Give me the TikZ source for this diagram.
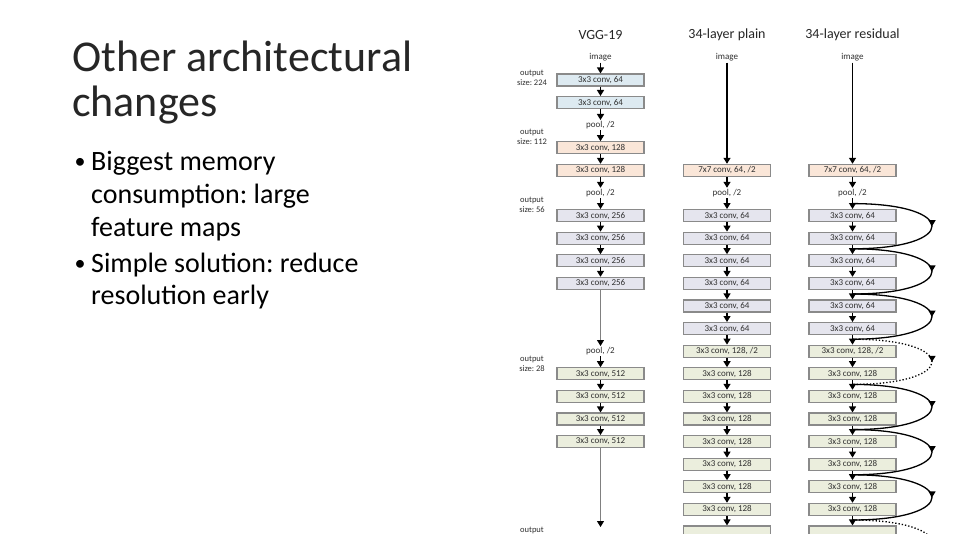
\documentclass[tikz,border=0pt]{standalone}
\usepackage{fontspec}
\setmainfont{Carlito}
\usetikzlibrary{arrows.meta,decorations.markings}
\definecolor{cblue}{HTML}{DDEAF1}
\definecolor{cpeach}{HTML}{FAE6D8}
\definecolor{clav}{HTML}{E5E5EE}
\definecolor{cgreen}{HTML}{EBEEDD}
\definecolor{boxline}{HTML}{8A8A8A}
\definecolor{txt}{HTML}{303030}
\definecolor{ttl}{HTML}{262626}
\tikzset{
  convbox/.style={draw=boxline, line width=1.2pt, minimum width=87pt, minimum height=12pt,
    inner sep=0pt, font=\fontsize{9}{9}\selectfont, text=txt},
  bluebox/.style={convbox, fill=cblue},
  peachbox/.style={convbox, fill=cpeach},
  lavbox/.style={convbox, fill=clav},
  greenbox/.style={convbox, fill=cgreen},
  lbl/.style={font=\fontsize{9}{9}\selectfont, text=txt, inner sep=1pt, text height=6pt, text depth=2pt},
  sizelbl/.style={font=\fontsize{8.5}{10}\selectfont, text=txt, align=center, inner sep=0pt},
  coltitle/.style={font=\fontsize{14}{15}\selectfont, text=ttl, inner sep=0pt},
  arr/.style={line width=1.3pt, -{Triangle[width=7pt,length=6pt]}},
  longarr/.style={draw=gray, line width=0.9pt, -{Triangle[width=7pt,length=6pt,color=black]}},
  skiparc/.style={line width=1.3pt,
    decoration={markings, mark=at position 0.5 with {\arrow{Triangle[width=7pt,length=6pt]}}},
    postaction={decorate}},
  skipdot/.style={skiparc, dotted},
}
\frenchspacing
\begin{document}
\begin{tikzpicture}[x=1pt,y=-1pt]
\useasboundingbox[fill=white] (0,0) rectangle (960,540);

% left text
\node[anchor=base west, font=\fontsize{44}{46}\selectfont, text=ttl, inner sep=0pt] (t1) at (72,72) {Other architectural};
\node[anchor=base west, font=\fontsize{44}{46}\selectfont, text=ttl, inner sep=0pt] (t2) at (72,117) {changes};
\tikzset{bodyt/.style={anchor=base west, font=\fontsize{28}{30}\selectfont, inner sep=0pt}}
\node[anchor=base, font=\fontsize{22}{24}\selectfont, inner sep=0pt] (b1) at (80,169) {•};
\node[bodyt] (b1a) at (91,171) {Biggest memory};
\node[bodyt] (b1b) at (91,204) {consumption: large};
\node[bodyt] (b1c) at (91,236) {feature maps};
\node[anchor=base, font=\fontsize{22}{24}\selectfont, inner sep=0pt] (b2) at (80,270) {•};
\node[bodyt] (b2a) at (91,272) {Simple solution: reduce};
\node[bodyt] (b2b) at (91,304) {resolution early};

\begin{scope}
\clip (480,0) rectangle (960,533);
% column titles
\node[coltitle] (h1) at (600.5,35) {VGG-19};
\node[coltitle] (h2) at (727,35) {34-layer plain};
\node[coltitle] (h3) at (852.5,35) {34-layer residual};

% output size labels
\node[sizelbl] (s224) at (532,78) {output\\size: 224};
\node[sizelbl] (s112) at (532,137) {output\\size: 112};
\node[sizelbl] (s56) at (532,205) {output\\size: 56};
\node[sizelbl] (s28) at (532,364) {output\\size: 28};
\node[sizelbl, anchor=north] (sout) at (532,527) {output};

% VGG-19
\node[lbl] (vimg) at (600.5,57.4) {image};
\node[bluebox] (v0) at (600.5,80) {3x3 conv, 64};
\node[bluebox] (v1) at (600.5,102.6) {3x3 conv, 64};
\node[lbl] (v2) at (600.5,125.2) {pool, /2};
\node[peachbox] (v3) at (600.5,147.8) {3x3 conv, 128};
\node[peachbox] (v4) at (600.5,170.4) {3x3 conv, 128};
\node[lbl] (v5) at (600.5,193) {pool, /2};
\foreach \k in {6,...,9} \node[lavbox] (v\k) at (600.5,{80+22.6*\k}) {3x3 conv, 256};
\node[lbl] (v12) at (600.5,351.2) {pool, /2};
\foreach \k in {13,...,16} \node[greenbox] (v\k) at (600.5,{80+22.6*\k}) {3x3 conv, 512};
\coordinate (vend) at (600.5,527);
\foreach \a/\b in {img/0,0/1,1/2,2/3,3/4,4/5,5/6,6/7,7/8,8/9,12/13,13/14,14/15,15/16}
  \draw[arr] (v\a) -- (v\b);
\draw[longarr] (v9) -- (v12);
\draw[longarr] (v16) -- (vend);

% plain and residual
\foreach \c/\x in {p/727, r/852.5}{
  \node[lbl] (\c img) at (\x,57.4) {image};
  \node[peachbox] (\c4) at (\x,170.4) {7x7 conv, 64, /2};
  \node[lbl] (\c5) at (\x,193) {pool, /2};
  \foreach \k in {6,...,11} \node[lavbox] (\c\k) at (\x,{80+22.6*\k}) {3x3 conv, 64};
  \node[greenbox] (\c12) at (\x,351.2) {3x3 conv, 128, /2};
  \foreach \k in {13,...,19} \node[greenbox] (\c\k) at (\x,{80+22.6*\k}) {3x3 conv, 128};
  \node[greenbox] (\c20) at (\x,532) {};
  \draw[arr] (\c img) -- (\c4);
  \foreach \k in {4,...,19}{
    \pgfmathtruncatemacro\n{\k+1}
    \draw[arr] (\c\k) -- (\c\n);
  }
}

% shortcut connections
\foreach \k in {6,8,...,22} \coordinate (j\k) at (852.5,{80+22.6*\k-12});
\foreach \a/\b in {6/8,8/10,10/12,14/16,16/18,18/20}
  \draw[skiparc] (j\a) .. controls +(106,0) and +(106,0) .. (j\b);
\foreach \a/\b in {12/14,20/22}
  \draw[skipdot] (j\a) .. controls +(106,0) and +(106,0) .. (j\b);
\end{scope}
\end{tikzpicture}
\end{document}
